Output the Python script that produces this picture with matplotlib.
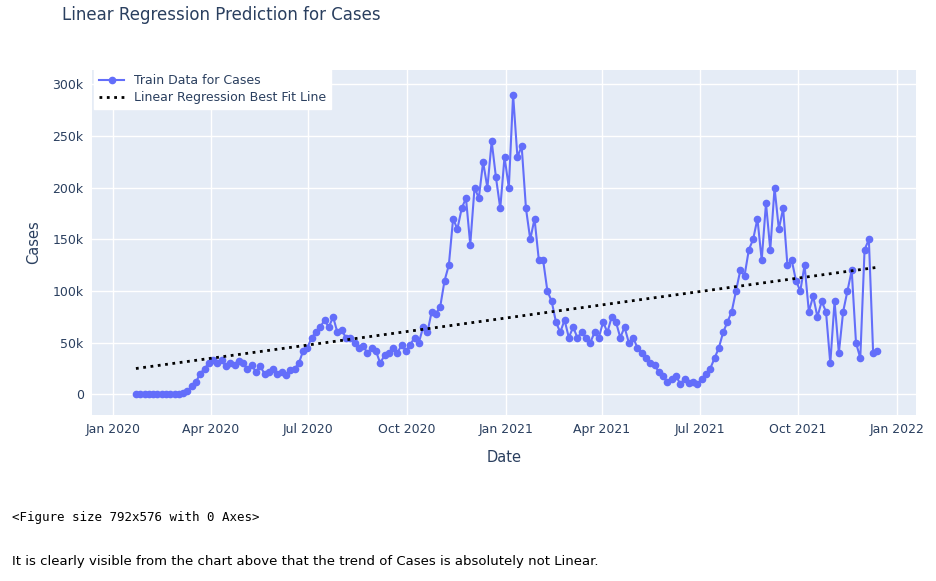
import numpy as np
import pandas as pd
import matplotlib.pyplot as plt
import matplotlib.dates as mdates
from matplotlib.ticker import FuncFormatter

cases_k = [0, 0, 0, 0, 0, 0, 0, 0, 0, 0, 0,
           1, 3, 8, 12, 20, 25, 30, 33, 30, 33, 27, 30, 28, 32, 30, 25, 28, 22, 27, 20, 22, 25,
           20, 22, 19, 24, 25, 30, 42, 45, 55, 60, 65, 72, 65, 75, 60, 62, 55, 55, 50, 45, 47, 40,
           45, 42, 30, 38, 40, 45, 40, 48, 42, 48, 55, 50, 65, 60, 80, 78, 85, 110, 125, 170, 160,
           180, 190, 145, 200, 190, 225, 200, 245, 210, 180, 230, 200, 290, 230, 240, 180, 150, 170,
           130, 130, 100, 90, 70, 60, 72, 55, 65, 55, 60, 55, 50, 60, 55, 70, 60, 75, 70, 55, 65,
           50, 55, 45, 40, 35, 30, 28, 22, 18, 12, 15, 18, 10, 15, 11, 12, 10, 15, 20, 25, 35, 45,
           60, 70, 80, 100, 120, 115, 140, 150, 170, 130, 185, 140, 200, 160, 180, 125, 130, 110,
           100, 125, 80, 95, 75, 90, 80, 30, 90, 40, 80, 100, 120, 50, 35, 140, 150, 40, 42]
dates = pd.date_range("2020-01-22", periods=len(cases_k), freq="4D")
cases = np.array(cases_k) * 1000

# best fit line endpoints
fit_ends = [25000, 123000]
fit_dates = [dates[0], dates[-1]]

fig = plt.figure(figsize=(9.36, 5.81), dpi=100)
ax = fig.add_axes([92 / 936, 166 / 581, 824 / 936, 345 / 581])
ax.set_facecolor("#E5ECF6")
for s in ax.spines.values():
    s.set_visible(False)
ax.grid(color="white", linewidth=1)
ax.set_axisbelow(True)

ax.plot(dates, cases, "-o", color="#636EFA", markersize=4.5, linewidth=1.5,
        label="Train Data for Cases")
ax.plot(fit_dates, fit_ends, ":", color="black", linewidth=2, label="Linear Regression Best Fit Line")

ax.set_ylim(-20000, 314000)
ax.set_xlim(pd.Timestamp("2019-12-12"), pd.Timestamp("2022-01-19"))
ax.set_yticks(range(0, 300001, 50000))
ax.yaxis.set_major_formatter(FuncFormatter(lambda v, p: "0" if v == 0 else f"{int(v/1000)}k"))
ax.set_xticks(pd.date_range("2020-01-01", "2022-01-01", freq="3MS"))
ax.xaxis.set_major_formatter(mdates.DateFormatter("%b %Y"))
ax.tick_params(length=0, labelsize=9, colors="#2a3f5f", pad=6)
ax.set_xlabel("Date", fontsize=10.5, color="#2a3f5f", labelpad=10)
ax.set_ylabel("Cases", fontsize=10.5, color="#2a3f5f", labelpad=8)

leg = ax.legend(loc="upper left", bbox_to_anchor=(-0.005, 1.02), frameon=True, fontsize=9,
                fancybox=False, borderpad=0.4, labelspacing=0.3)
leg.get_frame().set_facecolor("white")
leg.get_frame().set_edgecolor("white")
leg.get_frame().set_alpha(1)
for t in leg.get_texts():
    t.set_color("#2a3f5f")

fig.text(62 / 936, 1 - 15 / 581, "Linear Regression Prediction for Cases", fontsize=12,
         color="#2a3f5f", va="center")
fig.text(12 / 936, 1 - 517 / 581, "<Figure size 792x576 with 0 Axes>", fontsize=9,
         family="DejaVu Sans Mono", va="center")
fig.text(12 / 936, 1 - 561 / 581,
         "It is clearly visible from the chart above that the trend of Cases is absolutely not Linear.",
         fontsize=9.5, va="center")

fig.savefig("out.png", dpi=100)
